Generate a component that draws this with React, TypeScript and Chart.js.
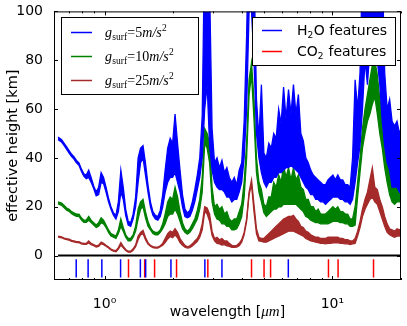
import React, { useEffect, useRef } from 'react';
import { Chart, registerables } from 'chart.js';

Chart.register(...registerables);

// wavelength grid [µm]
const WAVELENGTH = [
  0.625, 0.648, 0.665, 0.682, 0.699, 0.717, 0.734, 0.753, 0.772, 0.791,
  0.811, 0.831, 0.852, 0.873, 0.896, 0.919, 0.942, 0.966, 0.990, 1.015,
  1.041, 1.067, 1.094, 1.122, 1.150, 1.179, 1.208, 1.238, 1.270, 1.302,
  1.335, 1.369, 1.404, 1.439, 1.475, 1.512, 1.551, 1.590, 1.630, 1.671,
  1.713, 1.756, 1.800, 1.845, 1.893, 1.941, 1.989, 2.039, 2.091, 2.144,
  2.198, 2.253, 2.310, 2.368, 2.428, 2.489, 2.553, 2.617, 2.683, 2.751,
  2.820, 2.891, 2.964, 3.039, 3.115, 3.194, 3.275, 3.358, 3.442, 3.529,
  3.618, 3.709, 3.803, 3.899, 3.998, 4.099, 4.202, 4.308, 4.416, 4.527,
  4.642, 4.759, 4.880, 5.003, 5.129, 5.258, 5.391, 5.527, 5.666, 5.809,
  5.956, 6.106, 6.260, 6.418, 6.580, 6.746, 6.917, 7.091, 7.270, 7.453,
  7.642, 7.835, 8.033, 8.236, 8.443, 8.656, 8.875, 9.099, 9.327, 9.562,
  9.802, 10.05, 10.30, 10.56, 10.83, 11.10, 11.38, 11.67, 11.96, 12.26,
  12.58, 12.90, 13.22, 13.55, 13.90, 14.25, 14.60, 14.97, 15.35, 15.74,
  16.14, 16.55, 16.96, 17.39, 17.83, 18.28, 18.74, 19.21, 19.70, 20.0,
];

// effective height [km]: upper and lower edge of the noisy spectrum
// g_surf = 5 m/s^2
const G5_HIGH = [
  48.5, 47.5, 46, 44.5, 43, 41.5, 40.5, 39, 38, 35.5,
  33.5, 33, 35, 32, 28.5, 26, 28, 34, 32, 28,
  23.5, 20, 17.5, 16.5, 22, 35, 28, 19, 14, 13.5,
  17, 24, 40, 44, 45, 38, 29, 22, 18, 16.5,
  16, 18.5, 25, 35, 44, 48, 46, 58, 46, 35,
  25, 19, 17.5, 18.5, 22, 27, 33, 40, 57, 130,
  140, 110, 52, 38, 40, 36, 39, 34, 36, 32,
  30, 32, 29, 35, 38, 55, 90, 140, 140, 120,
  64, 48, 70, 42, 40, 46, 44, 50, 48, 60,
  54, 69, 56, 68, 58, 70, 58, 66, 50, 47,
  40, 38, 35, 33, 32, 31, 30, 29, 29, 31,
  32, 33, 31, 33, 31, 31, 29, 29, 28, 40,
  72, 60, 75, 120, 130, 130, 140, 140, 140, 140,
  140, 120, 75, 60, 64, 55, 53, 55, 50, 52,
];
const G5_LOW = [
  47.5, 46.5, 45, 43.5, 42, 40.5, 39.5, 38, 37, 34.5,
  32.5, 31.5, 32, 30, 27.5, 24.5, 25, 30, 29.5, 26,
  22, 19, 16.5, 15, 18, 26, 23, 16.5, 12.5, 12,
  15, 20, 30, 38, 40, 33, 26, 20, 16.5, 15,
  14.5, 16, 20, 26, 30, 32, 32, 34, 30, 26,
  20, 16, 15.5, 16, 18.5, 22, 27, 32, 40, 60,
  70, 45, 35, 30, 28, 27, 27, 26, 24, 24,
  22, 23, 23, 26, 30, 40, 60, 100, 100, 80,
  50, 40, 34, 30, 28, 30, 30, 32, 32, 34,
  34, 35, 36, 36, 37, 36, 35, 34, 32, 30,
  28, 27, 25, 25, 23, 23, 22, 22, 21, 22,
  23, 24, 24, 24, 23, 23, 22, 22, 21, 23,
  30, 38, 45, 60, 80, 70, 85, 80, 90, 80,
  70, 55, 45, 38, 35, 28, 28, 28, 26, 27,
];

// g_surf = 10 m/s^2
const G10_HIGH = [
  22, 21.5, 20.5, 19.5, 19, 18, 17.5, 17, 17, 15.5,
  14.5, 14.5, 16, 14.5, 13.5, 12.5, 13.5, 15.5, 14.5, 12.5,
  10.5, 9, 8.5, 8, 10.5, 15, 11.5, 8.5, 7, 7,
  8.5, 12, 19, 22, 23, 18, 14, 11.5, 10, 9.5,
  9.5, 10.5, 13, 17, 22, 24, 23, 28, 24, 18,
  13.5, 11, 10, 11, 13, 15, 18.5, 23, 32, 52,
  50, 46, 28, 20, 21, 19, 20, 17, 18, 15,
  14, 15, 15, 18, 21, 30, 46, 72, 79, 64,
  40, 30, 27, 21, 20, 24, 24, 30, 28, 33,
  30, 37, 32, 36, 31, 36, 31, 33, 28, 27,
  23, 23, 20, 20, 18, 19, 17, 17, 17, 18,
  19, 20, 19, 20, 18, 18, 17, 17, 15, 15,
  20, 30, 40, 52, 60, 66, 72, 78, 80, 74,
  64, 58, 48, 40, 36, 32, 30, 32, 30, 30,
];
const G10_LOW = [
  21.2, 20.6, 19.6, 18.6, 18.1, 17.1, 16.6, 16.1, 16.1, 14.6,
  13.6, 13.6, 14.5, 13.5, 12.5, 11.5, 12, 13.5, 13, 11.5,
  9.5, 8, 7.5, 7, 9, 12, 10, 7.5, 6, 6,
  7.5, 10, 15, 19, 20, 15.5, 12, 10.5, 9, 8.5,
  8.5, 9.5, 11, 13, 16, 17, 17, 19, 17, 14,
  11, 9.5, 8.8, 9.5, 11, 13, 15, 19, 26, 46,
  44, 38, 22, 17, 15, 14.5, 13, 13, 12, 12,
  10.5, 10.5, 11, 13, 16, 24, 40, 66, 74, 56,
  34, 26, 22, 17.5, 16, 17, 18, 19, 19, 20,
  20, 21, 21, 21, 21, 21, 21, 20, 19, 18,
  16, 15.5, 14.5, 14, 13.5, 13.5, 13, 13, 13, 13,
  13.5, 14, 14, 14, 13.5, 13.5, 13, 13, 12, 12,
  12.5, 24, 34, 44, 50, 55, 58, 62, 65, 58,
  50, 44, 36, 30, 25, 22, 21, 22, 22, 23,
];

// g_surf = 25 m/s^2
const G25_HIGH = [
  8, 7.7, 7.2, 6.9, 6.7, 6.2, 6, 5.7, 5.7, 5.2,
  5, 5, 6, 5, 4.5, 4, 4.3, 5.5, 5, 4.2,
  3.5, 2.7, 2.2, 2, 3.3, 5.3, 3.8, 2.5, 1.8, 1.8,
  2.8, 4.4, 8, 9.5, 10.3, 7.5, 5.3, 4.2, 3.7, 3.5,
  3.5, 4, 5, 7, 9, 10, 9.5, 11, 9.5, 7,
  5.5, 4.2, 3.6, 4, 4.8, 6, 7, 9, 13, 20,
  19.5, 17, 10, 7, 7.5, 6.5, 7, 6, 6, 5,
  4.2, 4, 4.2, 5, 6.5, 9.5, 15, 26, 31, 21,
  11, 7.5, 7, 7, 8, 9, 10, 11, 12, 13,
  14, 15, 15.5, 16, 16, 16.5, 15, 14, 12, 11.5,
  10, 9.5, 8.5, 8, 7.5, 7.5, 7, 7, 7, 7.5,
  7.5, 7.5, 7.5, 7.5, 7, 7, 6.5, 6.5, 6, 6,
  7, 10, 14, 19, 23, 26, 31, 36, 28, 27,
  23, 20, 16, 13, 11, 10.5, 10, 11, 10.5, 11,
];
const G25_LOW = [
  7.6, 7.3, 6.8, 6.5, 6.3, 5.8, 5.6, 5.3, 5.3, 4.8,
  4.6, 4.6, 5.2, 4.5, 4.1, 3.5, 3.8, 4.8, 4.5, 3.8,
  3.1, 2.3, 1.8, 1.6, 2.7, 4.3, 3.2, 2.1, 1.4, 1.4,
  2.2, 3.6, 6.5, 8.5, 9, 6.5, 4.7, 3.8, 3.3, 3.1,
  3.1, 3.6, 4.2, 5.3, 6.8, 7.8, 7.3, 8.5, 7.3, 5.3,
  4.2, 3.4, 3.1, 3.3, 3.9, 4.8, 5.8, 7.5, 10.5, 18,
  17, 14, 8.2, 6, 5, 4.8, 4.3, 4.5, 4, 3.8,
  3.4, 3.4, 3.5, 4, 5.5, 8.5, 14, 25, 29, 18,
  9, 6, 5.8, 5.5, 5.5, 6, 6.5, 7, 7.5, 8,
  8.5, 9, 9.5, 10, 10, 10, 9.5, 9, 8.5, 8,
  7, 6.5, 6, 5.8, 5.5, 5.3, 5, 5, 4.8, 5,
  5, 5.2, 5.2, 5.3, 5, 5, 4.8, 4.8, 4.5, 4.8,
  5, 8, 11.5, 16, 19, 21, 23, 24, 22, 21,
  18, 15, 12, 9.5, 8.5, 8, 7.5, 8, 8, 8.5,
];

const SERIES_G = ['5', '10', '25'];
const SERIES_COLORS = ['#0000ff', '#008000', '#a52a2a'];

const H2O_FEATURES = [0.751, 0.847, 0.973, 1.176, 1.436, 1.515, 1.956, 2.756, 3.275, 6.405];
const CO2_FEATURES = [1.274, 1.5, 1.658, 2.07, 2.84, 4.416, 5.012, 5.354, 9.61, 10.59, 15.15];
const FEATURE_TOP = -1.5;
const FEATURE_BOTTOM = -9;

const Y_TICKS = [0, 20, 40, 60, 80, 100];
const X_MAJOR = [1, 10];
const X_MAJOR_LABELS = ['10⁰', '10¹'];
const X_MINOR = [0.7, 0.8, 0.9, 2, 3, 4, 5, 6, 7, 8, 9, 20];

const SANS = '"DejaVu Sans"';
const SERIF = '"Liberation Serif"';

function featureData(list: number[]) {
  const out: { x: number; y: number | null }[] = [];
  list.forEach((w) => {
    out.push({ x: w, y: FEATURE_TOP });
    out.push({ x: w, y: FEATURE_BOTTOM });
    out.push({ x: w, y: null });
  });
  return out;
}

const decor = {
  id: 'decor',
  afterDraw(chart: any) {
    const { ctx, chartArea: a, scales } = chart;
    const xs = scales.x;
    const ys = scales.y;
    ctx.save();
    ctx.strokeStyle = '#000';
    ctx.lineWidth = 1;
    ctx.strokeRect(a.left + 0.5, a.top + 0.5, a.right - a.left - 1, a.bottom - a.top - 1);
    ctx.beginPath();
    Y_TICKS.forEach((v) => {
      const py = Math.round(ys.getPixelForValue(v)) + 0.5;
      ctx.moveTo(a.left, py);
      ctx.lineTo(a.left + 4, py);
      ctx.moveTo(a.right, py);
      ctx.lineTo(a.right - 4, py);
    });
    X_MAJOR.forEach((v) => {
      const px = Math.round(xs.getPixelForValue(v)) + 0.5;
      ctx.moveTo(px, a.bottom);
      ctx.lineTo(px, a.bottom - 4);
      ctx.moveTo(px, a.top);
      ctx.lineTo(px, a.top + 4);
    });
    X_MINOR.forEach((v) => {
      const px = Math.round(xs.getPixelForValue(v)) + 0.5;
      ctx.moveTo(px, a.bottom);
      ctx.lineTo(px, a.bottom - 2);
      ctx.moveTo(px, a.top);
      ctx.lineTo(px, a.top + 2);
    });
    ctx.stroke();

    // x title
    ctx.fillStyle = '#000';
    ctx.textBaseline = 'alphabetic';
    const parts: [string, string][] = [
      ['wavelength [', `14px ${SANS}`],
      ['μm', `italic 15px ${SERIF}`],
      [']', `14px ${SANS}`],
    ];
    let total = 0;
    parts.forEach(([t, f]) => { ctx.font = f; total += ctx.measureText(t).width; });
    let tx = (a.left + a.right) / 2 - total / 2;
    parts.forEach(([t, f]) => {
      ctx.font = f;
      ctx.fillText(t, tx, 316);
      tx += ctx.measureText(t).width;
    });

    // legend 1
    ctx.fillStyle = '#fff';
    ctx.fillRect(61, 17, 137, 77);
    ctx.strokeStyle = '#000';
    ctx.strokeRect(61.5, 17.5, 137, 77);
    const rows1 = [32, 56, 80];
    SERIES_G.forEach((g, i) => {
      const yy = rows1[i];
      ctx.strokeStyle = SERIES_COLORS[i];
      ctx.lineWidth = 1.5;
      ctx.beginPath();
      ctx.moveTo(71, yy + 0.5);
      ctx.lineTo(92, yy + 0.5);
      ctx.stroke();
      ctx.fillStyle = '#000';
      const base = yy + 5;
      let x0 = 105;
      ctx.font = `italic 14px ${SERIF}`;
      ctx.fillText('g', x0, base);
      x0 += ctx.measureText('g').width + 0.3;
      ctx.font = `9.5px ${SERIF}`;
      ctx.fillText('surf', x0, base + 3);
      x0 += ctx.measureText('surf').width + 0.3;
      ctx.font = `14px ${SERIF}`;
      ctx.fillText('=' + g, x0, base);
      x0 += ctx.measureText('=' + g).width;
      ctx.font = `italic 14px ${SERIF}`;
      ctx.fillText('m/s', x0, base);
      x0 += ctx.measureText('m/s').width + 0.3;
      ctx.font = `9.5px ${SERIF}`;
      ctx.fillText('2', x0, base - 6);
    });

    // legend 2
    ctx.lineWidth = 1;
    ctx.fillStyle = '#fff';
    ctx.fillRect(252, 17, 143, 48);
    ctx.strokeStyle = '#000';
    ctx.strokeRect(252.5, 17.5, 143, 48);
    const rows2 = [30, 51];
    const feats: [string, string, string][] = [
      ['H', 'O features', '#0000ff'],
      ['CO', ' features', '#ff0000'],
    ];
    feats.forEach(([a1, a2, col], i) => {
      const yy = rows2[i];
      ctx.strokeStyle = col;
      ctx.lineWidth = 1.5;
      ctx.beginPath();
      ctx.moveTo(262, yy + 0.5);
      ctx.lineTo(282, yy + 0.5);
      ctx.stroke();
      ctx.fillStyle = '#000';
      const base = yy + 5;
      let x0 = 297;
      ctx.font = `14px ${SANS}`;
      ctx.fillText(a1, x0, base);
      x0 += ctx.measureText(a1).width;
      ctx.font = `9px ${SANS}`;
      ctx.fillText('2', x0, base + 3);
      x0 += ctx.measureText('2').width + 0.5;
      ctx.font = `14px ${SANS}`;
      ctx.fillText(a2, x0, base);
    });
    ctx.restore();
  },
};

export default function App() {
  const ref = useRef<HTMLCanvasElement | null>(null);
  useEffect(() => {
    if (!ref.current) return;
    Chart.defaults.color = '#000';
    Chart.defaults.font.family = SANS;
    const pairs = [
      [G5_HIGH, G5_LOW],
      [G10_HIGH, G10_LOW],
      [G25_HIGH, G25_LOW],
    ];
    const seriesSets: any[] = [];
    pairs.forEach(([hi, lo], i) => {
      seriesSets.push({
        label: `g_surf=${SERIES_G[i]}m/s^2`,
        data: WAVELENGTH.map((w, j) => ({ x: w, y: hi[j] })),
        borderColor: SERIES_COLORS[i],
        backgroundColor: SERIES_COLORS[i],
        borderWidth: 1.3,
        pointRadius: 0,
        tension: 0,
        fill: '+1',
      });
      seriesSets.push({
        label: `g_surf=${SERIES_G[i]}m/s^2 low`,
        data: WAVELENGTH.map((w, j) => ({ x: w, y: lo[j] })),
        borderColor: SERIES_COLORS[i],
        backgroundColor: SERIES_COLORS[i],
        borderWidth: 1.3,
        pointRadius: 0,
        tension: 0,
        fill: false,
      });
    });
    const chart = new Chart(ref.current, {
      type: 'line',
      data: {
        datasets: [
          ...seriesSets,
          {
            label: 'zero',
            data: [{ x: WAVELENGTH[0], y: 0 }, { x: WAVELENGTH[WAVELENGTH.length - 1], y: 0 }],
            borderColor: '#000',
            borderWidth: 2,
            pointRadius: 0,
            fill: false,
          },
          {
            label: 'H2O features',
            data: featureData(H2O_FEATURES),
            borderColor: '#0000ff',
            borderWidth: 1.5,
            pointRadius: 0,
            spanGaps: false,
            fill: false,
          },
          {
            label: 'CO2 features',
            data: featureData(CO2_FEATURES),
            borderColor: '#ff0000',
            borderWidth: 1.5,
            pointRadius: 0,
            spanGaps: false,
            fill: false,
          },
        ] as any,
      },
      options: {
        responsive: false,
        animation: false,
        devicePixelRatio: 1,
        layout: { padding: { top: 11, right: 6, left: 0, bottom: 0 } },
        plugins: { legend: { display: false }, tooltip: { enabled: false }, filler: { propagate: false } },
        scales: {
          x: {
            type: 'logarithmic',
            min: 0.625,
            max: 20,
            grid: { display: false },
            border: { display: false },
            afterBuildTicks: (s: any) => {
              s.ticks = X_MAJOR.map((v) => ({ value: v }));
            },
            afterFit: (s: any) => {
              s.height = 46;
            },
            ticks: {
              autoSkip: false,
              maxRotation: 0,
              padding: 8,
              font: { size: 14, family: SANS },
              color: '#000',
              callback: (v: any) => X_MAJOR_LABELS[X_MAJOR.indexOf(Number(v))] ?? '',
            },
          },
          y: {
            type: 'linear',
            min: -10,
            max: 100,
            grid: { display: false },
            border: { display: false },
            afterBuildTicks: (s: any) => {
              s.ticks = Y_TICKS.map((v) => ({ value: v }));
            },
            afterFit: (s: any) => {
              s.width = 54;
            },
            ticks: {
              padding: 3,
              font: { size: 14, family: SANS },
              color: '#000',
            },
            title: {
              display: true,
              text: 'effective height [km]',
              font: { size: 14.5, family: SANS },
              color: '#000',
              padding: { top: 4.5, bottom: 0 },
            },
          },
        },
      },
      plugins: [decor],
    } as any);
    return () => chart.destroy();
  }, []);
  return (
    <div style={{ position: 'fixed', left: 0, top: 0, width: 407, height: 326, background: '#fff' }}>
      <canvas ref={ref} width={407} height={326} style={{ display: 'block' }} />
    </div>
  );
}
